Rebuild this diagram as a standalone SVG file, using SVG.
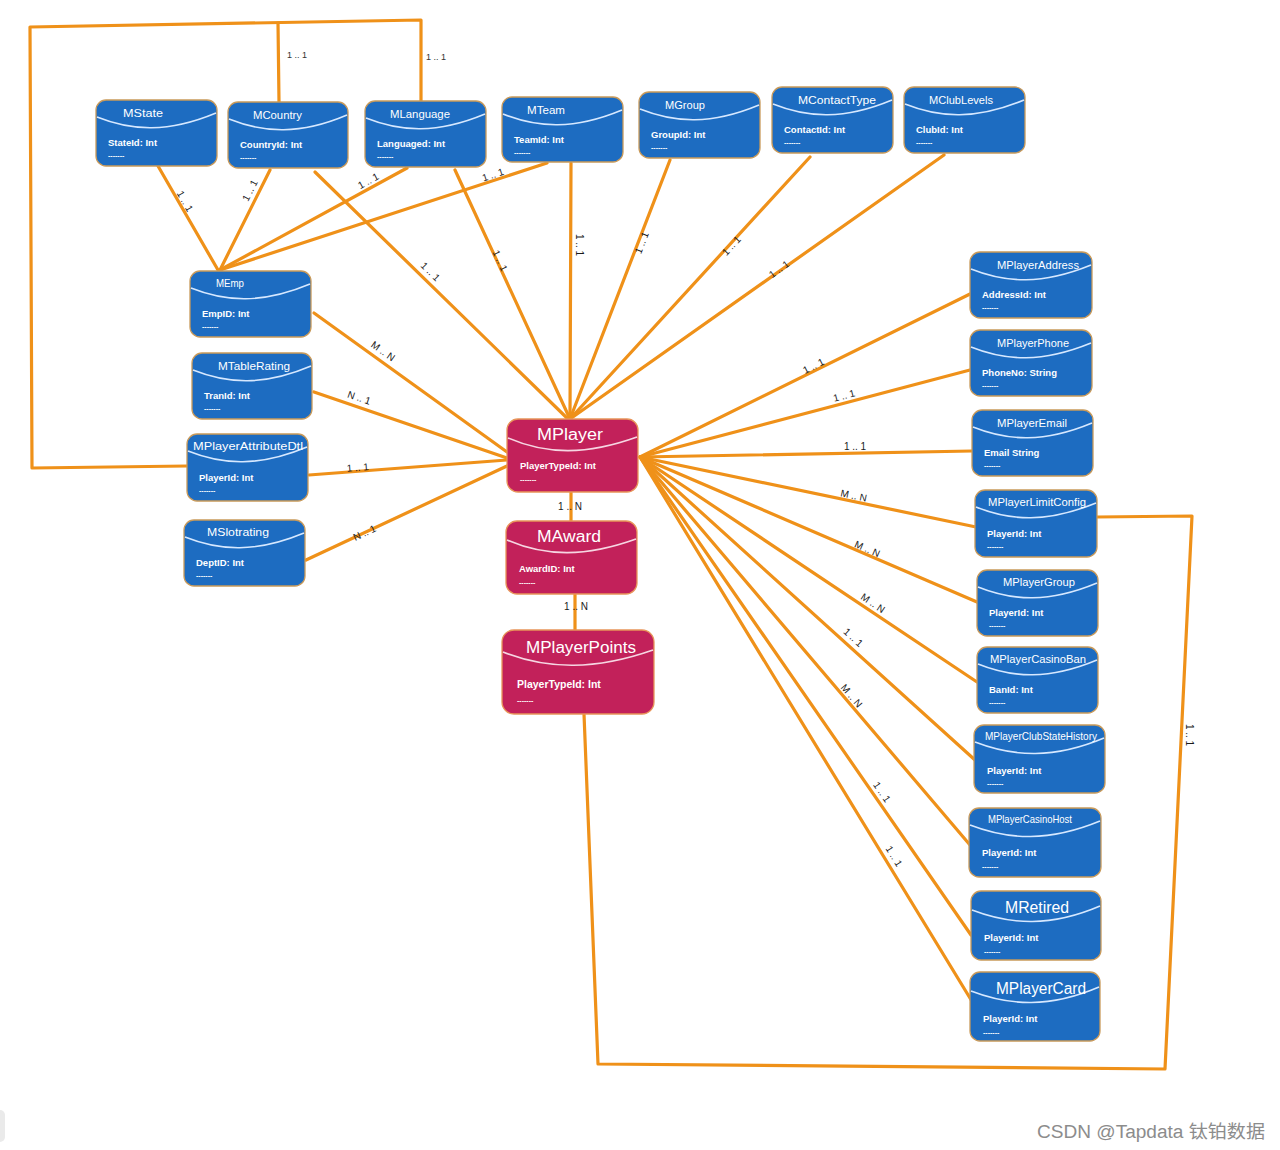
<svg xmlns="http://www.w3.org/2000/svg" width="1280" height="1150" viewBox="0 0 1280 1150">
<style>
.bg{fill:#ffffff}
.nb{fill:#1d6cc1;stroke:#c99a5a;stroke-width:1.3}
.nr{fill:#c2215a;stroke:#e8955a;stroke-width:1.3}
.wave{fill:none;stroke:#d6e8ff;stroke-width:1.6}
.waver{fill:none;stroke:#f6d6e2;stroke-width:1.6}
.t{font-family:"Liberation Sans","DejaVu Sans",sans-serif;fill:#ffffff;font-size:11px}
.tb{font-family:"Liberation Sans","DejaVu Sans",sans-serif;fill:#ffffff;font-size:16px}
.f{font-family:"Liberation Sans","DejaVu Sans",sans-serif;fill:#ffffff;font-size:9.5px;font-weight:bold}
.fb{font-family:"Liberation Sans","DejaVu Sans",sans-serif;fill:#ffffff;font-size:10.5px;font-weight:bold}
.d{font-family:"Liberation Sans",sans-serif;fill:#ffffff;font-size:7px;font-weight:bold}
.c{stroke:#ef9119;stroke-width:3.2;fill:none;stroke-linecap:round;stroke-linejoin:round}
.lbl{font-family:"Liberation Sans","DejaVu Sans",sans-serif;fill:#1a1a1a;font-size:10px;text-anchor:middle}
.lbl2{font-family:"Liberation Sans","DejaVu Sans",sans-serif;fill:#333333;font-size:9px;text-anchor:middle}
.wm{font-family:"Liberation Sans","Noto Sans CJK SC",sans-serif;fill:#8c8c8c;font-size:18px}
</style>
<rect class="bg" x="0" y="0" width="1280" height="1150"/>
<rect x="-6" y="1110" width="11" height="32" rx="5" fill="#eaeaea"/>

<g id="connectors">
  <polyline class="c" points="187,466 32,468 30,27 421,20 421,101"/>
  <polyline class="c" points="278,23 279,102"/>
  <polyline class="c" points="1097,517 1192,516 1165,1069 598,1064 584,714"/>
  <line class="c" x1="158" y1="166" x2="218" y2="270"/>
  <line class="c" x1="270" y1="170" x2="220" y2="270"/>
  <line class="c" x1="407" y1="168" x2="220" y2="270"/>
  <line class="c" x1="547" y1="163" x2="220" y2="270"/>
  <line class="c" x1="315" y1="172" x2="568" y2="419"/>
  <line class="c" x1="455" y1="170" x2="570" y2="419"/>
  <line class="c" x1="571" y1="163" x2="570" y2="419"/>
  <line class="c" x1="670" y1="160" x2="570" y2="419"/>
  <line class="c" x1="810" y1="157" x2="570" y2="419"/>
  <line class="c" x1="944" y1="155" x2="570" y2="419"/>
  <line class="c" x1="314" y1="313" x2="507" y2="452"/>
  <line class="c" x1="314" y1="392" x2="507" y2="458"/>
  <line class="c" x1="309" y1="475" x2="507" y2="460"/>
  <line class="c" x1="306" y1="560" x2="507" y2="466"/>
  <line class="c" x1="640" y1="457" x2="970" y2="294"/>
  <line class="c" x1="640" y1="457" x2="970" y2="370"/>
  <line class="c" x1="640" y1="457" x2="972" y2="451"/>
  <line class="c" x1="640" y1="457" x2="976" y2="527"/>
  <line class="c" x1="640" y1="457" x2="977" y2="602"/>
  <line class="c" x1="640" y1="457" x2="977" y2="682"/>
  <line class="c" x1="640" y1="457" x2="975" y2="760"/>
  <line class="c" x1="640" y1="457" x2="970" y2="845"/>
  <line class="c" x1="640" y1="457" x2="971" y2="935"/>
  <line class="c" x1="640" y1="457" x2="973" y2="1003"/>
  <line class="c" x1="571" y1="492" x2="571" y2="521"/>
  <line class="c" x1="575" y1="594" x2="575" y2="630"/>

  <text class="lbl2" x="297" y="58">1 .. 1</text>
  <text class="lbl2" x="436" y="60">1 .. 1</text>
  <text class="lbl" transform="translate(1186,735) rotate(90)">1 .. 1</text>
  <text class="lbl" x="570" y="510">1 .. N</text>
  <text class="lbl" x="576" y="610">1 .. N</text>

  <text class="lbl" transform="translate(182,203) rotate(60)">1 .. 1</text>
  <text class="lbl" transform="translate(253,192) rotate(-63)">1 .. 1</text>
  <text class="lbl" transform="translate(370,184) rotate(-28.6)">1 .. 1</text>
  <text class="lbl" transform="translate(494,178) rotate(-18)">1 .. 1</text>
  <text class="lbl" transform="translate(428,274) rotate(44.3)">1 .. 1</text>
  <text class="lbl" transform="translate(497,262) rotate(65)">1 .. 1</text>
  <text class="lbl" transform="translate(576,245) rotate(90)">1 .. 1</text>
  <text class="lbl" transform="translate(645,244) rotate(-69)">1 .. 1</text>
  <text class="lbl" transform="translate(734,248) rotate(-47.5)">1 .. 1</text>
  <text class="lbl" transform="translate(781,272) rotate(-35.2)">1 .. 1</text>

  <text class="lbl" transform="translate(381,354) rotate(35.4)">M .. N</text>
  <text class="lbl" transform="translate(358,401) rotate(18.9)">N .. 1</text>
  <text class="lbl" transform="translate(358,471) rotate(-4.3)">1 .. 1</text>
  <text class="lbl" transform="translate(366,536) rotate(-25)">N .. 1</text>

  <text class="lbl" transform="translate(815,369) rotate(-26.3)">1 .. 1</text>
  <text class="lbl" transform="translate(845,399) rotate(-14.8)">1 .. 1</text>
  <text class="lbl" transform="translate(855,450)">1 .. 1</text>
  <text class="lbl" transform="translate(853,499) rotate(11.8)">M .. N</text>
  <text class="lbl" transform="translate(866,552) rotate(23.3)">M .. N</text>
  <text class="lbl" transform="translate(871,606) rotate(33.7)">M .. N</text>
  <text class="lbl" transform="translate(851,640) rotate(42)">1 .. 1</text>
  <text class="lbl" transform="translate(849,698) rotate(49.6)">M .. N</text>
  <text class="lbl" transform="translate(879,794) rotate(55.3)">1 .. 1</text>
  <text class="lbl" transform="translate(891,858) rotate(58.6)">1 .. 1</text>
</g>

<g id="MState" transform="translate(96,100)">
  <rect class="nb" width="121" height="66" rx="10"/>
  <path class="wave" d="M1,17 C36,31 72,33 120,13"/>
  <text class="t" x="27" y="17" textLength="40" lengthAdjust="spacingAndGlyphs">MState</text>
  <text class="f" x="12" y="46">StateId: Int</text>
  <text class="d" x="12" y="58">-------</text>
</g>
<g id="MCountry" transform="translate(228,102)">
  <rect class="nb" width="120" height="66" rx="10"/>
  <path class="wave" d="M1,17 C36,31 72,33 119,13"/>
  <text class="t" x="25" y="17" textLength="49" lengthAdjust="spacingAndGlyphs">MCountry</text>
  <text class="f" x="12" y="46">CountryId: Int</text>
  <text class="d" x="12" y="58">-------</text>
</g>
<g id="MLanguage" transform="translate(365,101)">
  <rect class="nb" width="121" height="66" rx="10"/>
  <path class="wave" d="M1,17 C36,31 72,33 120,13"/>
  <text class="t" x="25" y="17" textLength="60" lengthAdjust="spacingAndGlyphs">MLanguage</text>
  <text class="f" x="12" y="46">Languaged: Int</text>
  <text class="d" x="12" y="58">-------</text>
</g>
<g id="MTeam" transform="translate(502,97)">
  <rect class="nb" width="121" height="65" rx="10"/>
  <path class="wave" d="M1,17 C36,31 72,33 120,13"/>
  <text class="t" x="25" y="17" textLength="38" lengthAdjust="spacingAndGlyphs">MTeam</text>
  <text class="f" x="12" y="46">TeamId: Int</text>
  <text class="d" x="12" y="58">-------</text>
</g>
<g id="MGroup" transform="translate(639,92)">
  <rect class="nb" width="121" height="66" rx="10"/>
  <path class="wave" d="M1,17 C36,31 72,33 120,13"/>
  <text class="t" x="26" y="17" textLength="40" lengthAdjust="spacingAndGlyphs">MGroup</text>
  <text class="f" x="12" y="46">GroupId: Int</text>
  <text class="d" x="12" y="58">-------</text>
</g>
<g id="MContactType" transform="translate(772,87)">
  <rect class="nb" width="121" height="66" rx="10"/>
  <path class="wave" d="M1,17 C36,31 72,33 120,13"/>
  <text class="t" x="26" y="17" textLength="78" lengthAdjust="spacingAndGlyphs">MContactType</text>
  <text class="f" x="12" y="46">ContactId: Int</text>
  <text class="d" x="12" y="58">-------</text>
</g>
<g id="MClubLevels" transform="translate(904,87)">
  <rect class="nb" width="121" height="66" rx="10"/>
  <path class="wave" d="M1,17 C36,31 72,33 120,13"/>
  <text class="t" x="25" y="17" textLength="64" lengthAdjust="spacingAndGlyphs">MClubLevels</text>
  <text class="f" x="12" y="46">ClubId: Int</text>
  <text class="d" x="12" y="58">-------</text>
</g>

<g id="MEmp" transform="translate(190,271)">
  <rect class="nb" width="121" height="66" rx="10"/>
  <path class="wave" d="M1,17 C36,31 72,33 120,13"/>
  <text class="t" x="26" y="16" textLength="28" lengthAdjust="spacingAndGlyphs">MEmp</text>
  <text class="f" x="12" y="46">EmpID: Int</text>
  <text class="d" x="12" y="58">-------</text>
</g>
<g id="MTableRating" transform="translate(192,353)">
  <rect class="nb" width="120" height="66" rx="10"/>
  <path class="wave" d="M1,17 C36,31 72,33 119,13"/>
  <text class="t" x="26" y="17" textLength="72" lengthAdjust="spacingAndGlyphs">MTableRating</text>
  <text class="f" x="12" y="46">TranId: Int</text>
  <text class="d" x="12" y="58">-------</text>
</g>
<g id="MPlayerAttributeDtl" transform="translate(187,434)">
  <rect class="nb" width="121" height="67" rx="10"/>
  <path class="wave" d="M1,17 C36,31 72,33 120,13"/>
  <text class="t" x="6" y="16" textLength="110" lengthAdjust="spacingAndGlyphs">MPlayerAttributeDtl</text>
  <text class="f" x="12" y="47">PlayerId: Int</text>
  <text class="d" x="12" y="59">-------</text>
</g>
<g id="MSlotrating" transform="translate(184,520)">
  <rect class="nb" width="121" height="66" rx="10"/>
  <path class="wave" d="M1,17 C36,31 72,33 120,13"/>
  <text class="t" x="23" y="16" textLength="62" lengthAdjust="spacingAndGlyphs">MSlotrating</text>
  <text class="f" x="12" y="46">DeptID: Int</text>
  <text class="d" x="12" y="58">-------</text>
</g>

<g id="MPlayer" transform="translate(507,419)">
  <rect class="nr" width="131" height="73" rx="11"/>
  <path class="waver" d="M1,19 C40,36 80,36 130,18"/>
  <text class="tb" x="30" y="21" textLength="66" lengthAdjust="spacingAndGlyphs">MPlayer</text>
  <text class="f" x="13" y="50">PlayerTypeId: Int</text>
  <text class="d" x="13" y="63">-------</text>
</g>
<g id="MAward" transform="translate(506,521)">
  <rect class="nr" width="131" height="73" rx="11"/>
  <path class="waver" d="M1,19 C40,36 80,36 130,18"/>
  <text class="tb" x="31" y="21" textLength="64" lengthAdjust="spacingAndGlyphs">MAward</text>
  <text class="f" x="13" y="51">AwardID: Int</text>
  <text class="d" x="13" y="64">-------</text>
</g>
<g id="MPlayerPoints" transform="translate(502,630)">
  <rect class="nr" width="152" height="84" rx="12"/>
  <path class="waver" d="M1,22 C46,40 94,40 151,20"/>
  <text class="tb" x="24" y="23" textLength="110" lengthAdjust="spacingAndGlyphs">MPlayerPoints</text>
  <text class="fb" x="15" y="58">PlayerTypeId: Int</text>
  <text class="d" x="15" y="73">-------</text>
</g>

<g id="MPlayerAddress" transform="translate(970,252)">
  <rect class="nb" width="122" height="66" rx="10"/>
  <path class="wave" d="M1,17 C36,31 72,33 121,13"/>
  <text class="t" x="27" y="17" textLength="82" lengthAdjust="spacingAndGlyphs">MPlayerAddress</text>
  <text class="f" x="12" y="46">AddressId: Int</text>
  <text class="d" x="12" y="58">-------</text>
</g>
<g id="MPlayerPhone" transform="translate(970,330)">
  <rect class="nb" width="122" height="66" rx="10"/>
  <path class="wave" d="M1,17 C36,31 72,33 121,13"/>
  <text class="t" x="27" y="17" textLength="72" lengthAdjust="spacingAndGlyphs">MPlayerPhone</text>
  <text class="f" x="12" y="46">PhoneNo: String</text>
  <text class="d" x="12" y="58">-------</text>
</g>
<g id="MPlayerEmail" transform="translate(972,410)">
  <rect class="nb" width="121" height="66" rx="10"/>
  <path class="wave" d="M1,17 C36,31 72,33 120,13"/>
  <text class="t" x="25" y="17" textLength="70" lengthAdjust="spacingAndGlyphs">MPlayerEmail</text>
  <text class="f" x="12" y="46">Email String</text>
  <text class="d" x="12" y="58">-------</text>
</g>
<g id="MPlayerLimitConfig" transform="translate(975,490)">
  <rect class="nb" width="122" height="67" rx="10"/>
  <path class="wave" d="M1,17 C36,31 72,33 121,13"/>
  <text class="t" x="13" y="16" textLength="98" lengthAdjust="spacingAndGlyphs">MPlayerLimitConfig</text>
  <text class="f" x="12" y="47">PlayerId: Int</text>
  <text class="d" x="12" y="59">-------</text>
</g>
<g id="MPlayerGroup" transform="translate(977,570)">
  <rect class="nb" width="121" height="66" rx="10"/>
  <path class="wave" d="M1,17 C36,31 72,33 120,13"/>
  <text class="t" x="26" y="16" textLength="72" lengthAdjust="spacingAndGlyphs">MPlayerGroup</text>
  <text class="f" x="12" y="46">PlayerId: Int</text>
  <text class="d" x="12" y="58">-------</text>
</g>
<g id="MPlayerCasinoBan" transform="translate(977,647)">
  <rect class="nb" width="121" height="66" rx="10"/>
  <path class="wave" d="M1,17 C36,31 72,33 120,13"/>
  <text class="t" x="13" y="16" textLength="96" lengthAdjust="spacingAndGlyphs">MPlayerCasinoBan</text>
  <text class="f" x="12" y="46">BanId: Int</text>
  <text class="d" x="12" y="58">-------</text>
</g>
<g id="MPlayerClubStateHistory" transform="translate(974,725)">
  <rect class="nb" width="131" height="68" rx="10"/>
  <path class="wave" d="M1,17 C40,32 80,34 130,13"/>
  <text class="t" x="11" y="15" font-size="10" textLength="112" lengthAdjust="spacingAndGlyphs">MPlayerClubStateHistory</text>
  <text class="f" x="13" y="49">PlayerId: Int</text>
  <text class="d" x="13" y="61">-------</text>
</g>
<g id="MPlayerCasinoHost" transform="translate(969,808)">
  <rect class="nb" width="132" height="69" rx="10"/>
  <path class="wave" d="M1,17 C40,32 80,34 131,13"/>
  <text class="t" x="19" y="15" font-size="10" textLength="84" lengthAdjust="spacingAndGlyphs">MPlayerCasinoHost</text>
  <text class="f" x="13" y="48">PlayerId: Int</text>
  <text class="d" x="13" y="61">-------</text>
</g>
<g id="MRetired" transform="translate(971,891)">
  <rect class="nb" width="130" height="69" rx="10"/>
  <path class="wave" d="M1,19 C40,34 80,36 129,15"/>
  <text class="tb" x="34" y="22" font-size="15" textLength="64" lengthAdjust="spacingAndGlyphs">MRetired</text>
  <text class="f" x="13" y="50">PlayerId: Int</text>
  <text class="d" x="13" y="63">-------</text>
</g>
<g id="MPlayerCard" transform="translate(970,972)">
  <rect class="nb" width="130" height="69" rx="10"/>
  <path class="wave" d="M1,19 C40,34 80,36 129,15"/>
  <text class="tb" x="26" y="22" font-size="15" textLength="90" lengthAdjust="spacingAndGlyphs">MPlayerCard</text>
  <text class="f" x="13" y="50">PlayerId: Int</text>
  <text class="d" x="13" y="63">-------</text>
</g>

<text class="wm" x="1037" y="1138" textLength="228" lengthAdjust="spacingAndGlyphs">CSDN @Tapdata 钛铂数据</text>
</svg>
